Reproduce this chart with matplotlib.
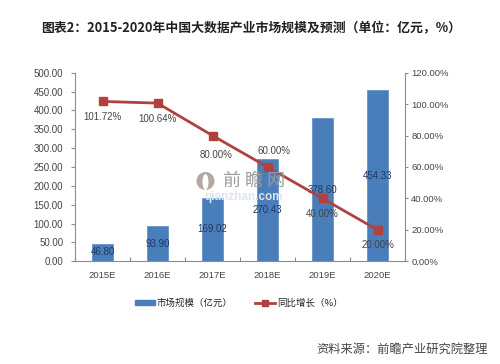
import matplotlib
matplotlib.use("Agg")
import matplotlib.pyplot as plt
from matplotlib.patches import Ellipse, Patch
from matplotlib.lines import Line2D

years = ["2015E", "2016E", "2017E", "2018E", "2019E", "2020E"]
market_size = [46.80, 93.90, 169.02, 270.43, 378.60, 454.33]
growth = [101.72, 100.64, 80.00, 60.00, 40.00, 20.00]
size_labels = ["46.80", "93.90", "169.02", "270.43", "378.60", "454.33"]
growth_labels = ["101.72%", "100.64%", "80.00%", "60.00%", "40.00%", "20.00%"]
left_ticks = [0, 50, 100, 150, 200, 250, 300, 350, 400, 450, 500]
right_ticks = [0, 20, 40, 60, 80, 100, 120]
growth_offsets = [(0, -15.5), (0, -15.5), (3.5, -19), (7, 15.5), (0, -16), (0, -15)]

W, H = 500, 364
SANS = ["Liberation Sans", "DejaVu Sans"]
CJK = ["Noto Sans CJK SC", "DejaVu Sans"]
TXT = "#454545"
GREY = "#8c8c8c"
BLUE = "#4a7ebb"
RED = "#b0413e"

fig = plt.figure(figsize=(W / 100, H / 100), dpi=100, facecolor="white")
ax = fig.add_axes([75 / W, 1 - 261.3 / H, 330 / W, 188.6 / H])
x = list(range(len(years)))

ax.bar(x, market_size, width=0.39, color=BLUE, edgecolor="#5a8ac2", linewidth=0.5, zorder=2)
ax.set_xlim(-0.5, 5.5)
ax.set_ylim(0, 500)
ax.set_yticks(left_ticks)
ax.set_yticklabels([f"{v:.2f}" for v in left_ticks], fontsize=7, color=TXT, family=SANS)
ax.set_xticks([i - 0.5 for i in range(7)])
ax.set_xticklabels([])
ax.set_xticks(x, minor=True)
ax.set_xticklabels(years, minor=True, fontsize=6.8, color=TXT, family=SANS)
ax.tick_params(axis="x", which="major", length=3, color=GREY, width=0.8, direction="in")
ax.tick_params(axis="x", which="minor", length=0, pad=7)
ax.tick_params(axis="y", length=3, color=GREY, width=0.8, pad=5.5)
for s in ("top", "right"):
    ax.spines[s].set_visible(False)
for s in ("left", "bottom"):
    ax.spines[s].set_color(GREY)
    ax.spines[s].set_linewidth(0.8)

ax2 = ax.twinx()
ax2.plot(x, growth, color=RED, linewidth=2, marker="s", markersize=6,
         markerfacecolor=RED, markeredgecolor=RED, zorder=4)
ax2.set_ylim(0, 120)
ax2.set_yticks(right_ticks)
ax2.set_yticklabels([f"{v:.2f}%" for v in right_ticks], fontsize=6.8, color=TXT, family=SANS)
ax2.tick_params(axis="y", length=2.5, color=GREY, width=0.8, pad=2)
for s in ("top", "left", "bottom"):
    ax2.spines[s].set_visible(False)
ax2.spines["right"].set_color(GREY)
ax2.spines["right"].set_linewidth(0.8)

for xi, v, lab in zip(x, market_size, size_labels):
    ax.annotate(lab, (xi, v / 2), xytext=(0, 0), textcoords="offset points",
                ha="center", va="center", fontsize=7, color="#1f3864", family=SANS, zorder=6)
ax.set_zorder(1)
ax2.set_zorder(2)
for xi, v, lab, off in zip(x, growth, growth_labels, growth_offsets):
    ax2.annotate(lab, (xi, v), xytext=(off[0] * 0.72, off[1] * 0.72), textcoords="offset points",
                 ha="center", va="center", fontsize=7, color=TXT, family=SANS, zorder=6)

# watermark
fig.add_artist(Ellipse((205.5 / W, 1 - 181 / H), 18 / W, 18 / H, transform=fig.transFigure,
                       facecolor="#b3a8a3", edgecolor="none", zorder=5))
fig.add_artist(Ellipse((205.5 / W, 1 - 182 / H), 6 / W, 16 / H, transform=fig.transFigure,
                       facecolor="white", edgecolor="none", zorder=6))
fig.text(254 / W, 1 - 181 / H, "前 瞻 网", fontsize=13, color="#9c9c9c", ha="center", va="center",
         family=CJK, zorder=6)
fig.text(244 / W, 1 - 197 / H, "qianzhan.com", fontsize=8.5, color="#dde5f0", ha="center", va="center",
         family=SANS, weight="bold", zorder=6)

fig.text(251 / W, 1 - 28 / H,
         "图表2\uff1a2015-2020年中国大数据产业市场规模及预测\uff08单位\uff1a亿元\uff0c%\uff09",
         fontsize=9.27, weight="bold", color="#222222", ha="center", va="center", family=CJK)

handles = [Patch(facecolor=BLUE, edgecolor=BLUE),
           Line2D([0], [0], color=RED, linewidth=2, marker="s", markersize=4.5)]
fig.legend(handles, ["市场规模\uff08亿元\uff09", "同比增长\uff08%\uff09"], loc="center",
           bbox_to_anchor=(239 / W, 1 - 303 / H),
           ncol=2, frameon=False, prop={"family": CJK, "size": 6.8}, labelcolor="#222222",
           handlelength=2.1, handleheight=0.35, handletextpad=0.2, columnspacing=2.4)

fig.text(488 / W, 1 - 349 / H, "资料来源\uff1a前瞻产业研究院整理", fontsize=8.8, color="#444444",
         ha="right", va="center", family=CJK)

fig.savefig("out.png", dpi=100)
